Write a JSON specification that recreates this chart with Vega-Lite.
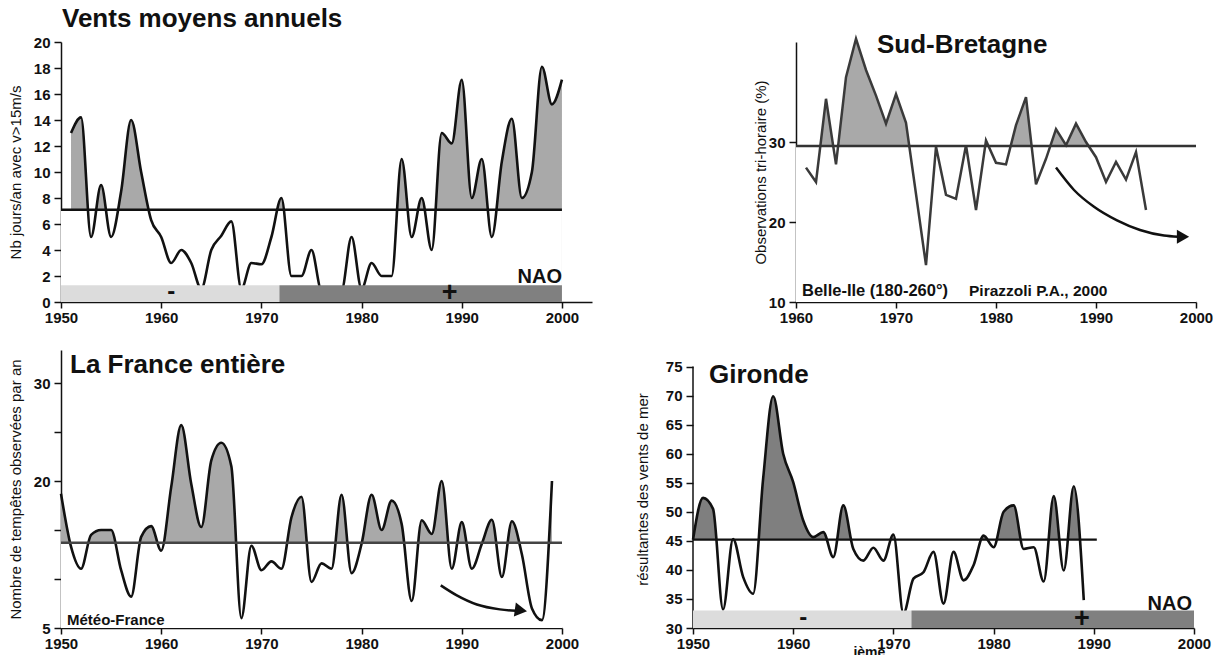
{
  "$schema": "https://vega.github.io/schema/vega-lite/v6.json",
  "autosize": {"type": "pad"},
  "padding": {"left": 8, "top": 6, "right": 0, "bottom": 0},
  "background": "white",
  "datasets": {
    "vents": [
      {"year":1951,"v":13.0},{"year":1952,"v":14.2},{"year":1953,"v":5.0},{"year":1954,"v":9.0},{"year":1955,"v":5.0},
      {"year":1956,"v":8.5},{"year":1957,"v":14.0},{"year":1958,"v":10.0},{"year":1959,"v":6.3},{"year":1960,"v":5.0},
      {"year":1961,"v":3.0},{"year":1962,"v":4.0},{"year":1963,"v":3.0},{"year":1964,"v":1.0},{"year":1965,"v":4.0},
      {"year":1966,"v":5.1},{"year":1967,"v":6.2},{"year":1968,"v":1.0},{"year":1969,"v":3.0},{"year":1970,"v":2.9},
      {"year":1971,"v":5.0},{"year":1972,"v":8.0},{"year":1973,"v":2.0},{"year":1974,"v":2.0},{"year":1975,"v":4.0},
      {"year":1976,"v":0.9},{"year":1977,"v":1.0},{"year":1978,"v":0.9},{"year":1979,"v":5.0},{"year":1980,"v":1.0},
      {"year":1981,"v":3.0},{"year":1982,"v":2.0},{"year":1983,"v":2.0},{"year":1984,"v":11.0},{"year":1985,"v":5.0},
      {"year":1986,"v":8.0},{"year":1987,"v":4.0},{"year":1988,"v":13.0},{"year":1989,"v":12.2},{"year":1990,"v":17.1},
      {"year":1991,"v":8.0},{"year":1992,"v":11.0},{"year":1993,"v":5.0},{"year":1994,"v":10.8},{"year":1995,"v":14.1},
      {"year":1996,"v":8.0},{"year":1997,"v":10.0},{"year":1998,"v":18.1},{"year":1999,"v":15.2},{"year":2000,"v":17.1}
    ],
    "bretagne": [
      {"year":1961,"v":26.8},{"year":1962,"v":25.0},{"year":1963,"v":35.4},{"year":1964,"v":27.2},{"year":1965,"v":38.1},
      {"year":1966,"v":42.9},{"year":1967,"v":39.0},{"year":1968,"v":35.8},{"year":1969,"v":32.3},{"year":1970,"v":36.0},
      {"year":1971,"v":32.4},{"year":1972,"v":23.5},{"year":1973,"v":14.6},{"year":1974,"v":29.4},{"year":1975,"v":23.4},
      {"year":1976,"v":22.9},{"year":1977,"v":29.6},{"year":1978,"v":21.5},{"year":1979,"v":30.2},{"year":1980,"v":27.4},
      {"year":1981,"v":27.2},{"year":1982,"v":32.1},{"year":1983,"v":35.6},{"year":1984,"v":24.7},{"year":1985,"v":27.9},
      {"year":1986,"v":31.6},{"year":1987,"v":29.6},{"year":1988,"v":32.3},{"year":1989,"v":30.0},{"year":1990,"v":28.1},
      {"year":1991,"v":25.0},{"year":1992,"v":27.5},{"year":1993,"v":25.3},{"year":1994,"v":28.75},{"year":1995,"v":21.5}
    ],
    "france": [
      {"year":1950,"v":18.7},{"year":1951,"v":13.3},{"year":1952,"v":11.05},{"year":1953,"v":14.5},{"year":1954,"v":15.0},
      {"year":1955,"v":15.0},{"year":1956,"v":10.9},{"year":1957,"v":8.2},{"year":1958,"v":14.3},{"year":1959,"v":15.4},
      {"year":1960,"v":12.9},{"year":1961,"v":19.4},{"year":1962,"v":25.7},{"year":1963,"v":19.7},{"year":1964,"v":15.3},
      {"year":1965,"v":22.1},{"year":1966,"v":23.9},{"year":1967,"v":21.5},{"year":1968,"v":6.0},{"year":1969,"v":13.4},
      {"year":1970,"v":10.9},{"year":1971,"v":11.8},{"year":1972,"v":11.05},{"year":1973,"v":16.3},{"year":1974,"v":18.4},
      {"year":1975,"v":9.7},{"year":1976,"v":11.6},{"year":1977,"v":11.05},{"year":1978,"v":18.6},{"year":1979,"v":10.6},
      {"year":1980,"v":13.6},{"year":1981,"v":18.6},{"year":1982,"v":15.0},{"year":1983,"v":18.0},{"year":1984,"v":15.6},
      {"year":1985,"v":7.75},{"year":1986,"v":16.0},{"year":1987,"v":14.6},{"year":1988,"v":20.0},{"year":1989,"v":11.05},
      {"year":1990,"v":15.8},{"year":1991,"v":11.05},{"year":1992,"v":13.6},{"year":1993,"v":16.05},{"year":1994,"v":10.2},
      {"year":1995,"v":15.9},{"year":1996,"v":12.5},{"year":1997,"v":7.0},{"year":1998,"v":5.8},{"year":1999,"v":20.0}
    ],
    "gironde": [
      {"year":1950,"v":45.2},{"year":1951,"v":52.4},{"year":1952,"v":50.5},{"year":1953,"v":33.2},{"year":1954,"v":45.3},
      {"year":1955,"v":38.8},{"year":1956,"v":35.9},{"year":1957,"v":55.7},{"year":1958,"v":69.9},{"year":1959,"v":60.0},
      {"year":1960,"v":55.1},{"year":1961,"v":48.5},{"year":1962,"v":45.65},{"year":1963,"v":46.5},{"year":1964,"v":42.2},
      {"year":1965,"v":51.1},{"year":1966,"v":43.6},{"year":1967,"v":41.6},{"year":1968,"v":43.8},{"year":1969,"v":41.6},
      {"year":1970,"v":46.1},{"year":1971,"v":32.5},{"year":1972,"v":38.5},{"year":1973,"v":39.6},{"year":1974,"v":43.1},
      {"year":1975,"v":34.2},{"year":1976,"v":43.1},{"year":1977,"v":38.2},{"year":1978,"v":40.8},{"year":1979,"v":45.9},
      {"year":1980,"v":43.9},{"year":1981,"v":50.0},{"year":1982,"v":51.1},{"year":1983,"v":43.6},{"year":1984,"v":43.9},
      {"year":1985,"v":38.0},{"year":1986,"v":52.7},{"year":1987,"v":39.9},{"year":1988,"v":54.4},{"year":1989,"v":34.8}
    ],
    "naoVents": [
      {"start":1950,"end":1971.8,"phase":"neg"},
      {"start":1971.8,"end":2000,"phase":"pos"}
    ],
    "naoGironde": [
      {"start":1950,"end":1971.8,"phase":"neg"},
      {"start":1971.8,"end":2000,"phase":"pos"}
    ],
    "arrowSB": [
      {"year":1986.0,"v":26.8},{"year":1987.8,"v":24.0},{"year":1989.8,"v":21.9},{"year":1992.1,"v":20.2},
      {"year":1994.4,"v":19.0},{"year":1996.8,"v":18.3},{"year":1998.2,"v":18.15}
    ],
    "arrowFR": [
      {"year":1987.9,"v":9.35},{"year":1989.5,"v":8.33},{"year":1991.5,"v":7.4},{"year":1993.8,"v":6.9},{"year":1995.4,"v":6.75}
    ]
  },
  "spacing": 25,
  "vconcat": [
    {
      "spacing": 204,
      "bounds": "flush",
      "hconcat": [
        {
          "width": 531,
          "height": 260,
          "layer": [
            {
              "data": {"name": "vents"},
              "mark": {"type": "area", "interpolate": "monotone", "color": "#a9a9a9"},
              "encoding": {
                "x": {"field": "year", "type": "quantitative", "scale": {"domain": [1950, 2003], "nice": false, "zero": false},
                      "axis": {"values": [1950,1960,1970,1980,1990,2000], "format": "d", "title": null}},
                "y": {"field": "v", "type": "quantitative", "scale": {"domain": [0, 20], "nice": false},
                      "axis": {"values": [0,2,4,6,8,10,12,14,16,18,20], "tickCount": 40, "format": "d", "title": "Nb jours/an avec v>15m/s", "titlePadding": 10}},
                "y2": {"datum": 0}
              }
            },
            {
              "data": {"values": [{}]},
              "mark": {"type": "rect", "color": "white"},
              "encoding": {"x": {"datum": 1950}, "x2": {"datum": 2000}, "y": {"datum": 0}, "y2": {"datum": 7.1}}
            },
            {
              "data": {"name": "vents"},
              "mark": {"type": "line", "interpolate": "monotone", "color": "#111", "strokeWidth": 2.6},
              "encoding": {"x": {"field": "year", "type": "quantitative"}, "y": {"field": "v", "type": "quantitative"}}
            },
            {
              "data": {"values": [{}]},
              "mark": {"type": "rule", "color": "#111", "strokeWidth": 2.5},
              "encoding": {"x": {"datum": 1950}, "x2": {"datum": 2000}, "y": {"datum": 7.1}}
            },
            {
              "data": {"name": "naoVents"},
              "mark": {"type": "rect"},
              "encoding": {
                "x": {"field": "start", "type": "quantitative"}, "x2": {"field": "end"},
                "y": {"datum": 0}, "y2": {"datum": 1.28},
                "color": {"field": "phase", "type": "nominal", "scale": {"domain": ["neg","pos"], "range": ["#dcdcdc","#808080"]}, "legend": null}
              }
            },
            {
              "data": {"values": [{}]},
              "mark": {"type": "text", "text": "-", "font": "Liberation Sans", "fontWeight": "bold", "fontSize": 24, "align": "center", "baseline": "middle", "color": "#111"},
              "encoding": {"x": {"datum": 1961}, "y": {"datum": 0.75}}
            },
            {
              "data": {"values": [{}]},
              "mark": {"type": "text", "text": "+", "font": "Liberation Sans", "fontWeight": "bold", "fontSize": 27, "align": "center", "baseline": "middle", "color": "#111"},
              "encoding": {"x": {"datum": 1988.8}, "y": {"datum": 0.7}}
            },
            {
              "data": {"values": [{}]},
              "mark": {"type": "text", "text": "NAO", "font": "Liberation Sans", "fontWeight": "bold", "fontSize": 20, "align": "right", "baseline": "alphabetic", "color": "#111"},
              "encoding": {"x": {"datum": 2000}, "y": {"datum": 1.44}}
            },
            {
              "data": {"values": [{}]},
              "mark": {"type": "text", "text": "Vents moyens annuels", "font": "Liberation Sans", "fontWeight": "bold", "fontSize": 26, "align": "left", "baseline": "alphabetic", "color": "#111"},
              "encoding": {"x": {"datum": 1950.1}, "y": {"datum": 21.15}}
            }
          ]
        },
        {
          "width": 400,
          "height": 260,
          "layer": [
            {
              "data": {"name": "bretagne"},
              "mark": {"type": "area", "color": "#a9a9a9"},
              "encoding": {
                "x": {"field": "year", "type": "quantitative", "scale": {"domain": [1960, 2000], "nice": false, "zero": false},
                      "axis": {"values": [1960,1970,1980,1990,2000], "format": "d", "title": null}},
                "y": {"field": "v", "type": "quantitative", "scale": {"domain": [10, 42.5], "nice": false, "zero": false},
                      "axis": {"values": [10,20,30], "tickCount": 40, "format": "d", "title": "Observations tri-horaire (%)", "titlePadding": 0}},
                "y2": {"datum": 10}
              }
            },
            {
              "data": {"values": [{}]},
              "mark": {"type": "rect", "color": "white"},
              "encoding": {"x": {"datum": 1960}, "x2": {"datum": 2000}, "y": {"datum": 10}, "y2": {"datum": 29.5}}
            },
            {
              "data": {"name": "bretagne"},
              "mark": {"type": "line", "color": "#3a3a3a", "strokeWidth": 2.5},
              "encoding": {"x": {"field": "year", "type": "quantitative"}, "y": {"field": "v", "type": "quantitative"}}
            },
            {
              "data": {"values": [{}]},
              "mark": {"type": "rule", "color": "#333", "strokeWidth": 2.5},
              "encoding": {"x": {"datum": 1960}, "x2": {"datum": 2000}, "y": {"datum": 29.5}}
            },
            {
              "data": {"name": "arrowSB"},
              "mark": {"type": "line", "interpolate": "monotone", "color": "#111", "strokeWidth": 2.5},
              "encoding": {"x": {"field": "year", "type": "quantitative"}, "y": {"field": "v", "type": "quantitative"}}
            },
            {
              "data": {"values": [{}]},
              "mark": {"type": "point", "shape": "triangle-right", "filled": true, "size": 200, "color": "#111", "opacity": 1},
              "encoding": {"x": {"datum": 1998.7}, "y": {"datum": 18.15}}
            },
            {
              "data": {"values": [{}]},
              "mark": {"type": "text", "text": "Sud-Bretagne", "font": "Liberation Sans", "fontWeight": "bold", "fontSize": 26, "align": "left", "baseline": "alphabetic", "color": "#111"},
              "encoding": {"x": {"datum": 1968.1}, "y": {"datum": 41.1}}
            },
            {
              "data": {"values": [{}]},
              "mark": {"type": "text", "text": "Belle-Ile (180-260°)", "font": "Liberation Sans", "fontWeight": "bold", "fontSize": 16.5, "align": "left", "baseline": "alphabetic", "color": "#111"},
              "encoding": {"x": {"datum": 1960.6}, "y": {"datum": 10.7}}
            },
            {
              "data": {"values": [{}]},
              "mark": {"type": "text", "text": "Pirazzoli P.A., 2000", "font": "Liberation Sans", "fontWeight": "bold", "fontSize": 15.5, "align": "left", "baseline": "alphabetic", "color": "#111"},
              "encoding": {"x": {"datum": 1977.3}, "y": {"datum": 10.7}}
            }
          ]
        }
      ]
    },
    {
      "spacing": 131,
      "bounds": "flush",
      "hconcat": [
        {
          "width": 501,
          "height": 278,
          "layer": [
            {
              "data": {"name": "france"},
              "mark": {"type": "area", "interpolate": "monotone", "color": "#a9a9a9"},
              "encoding": {
                "x": {"field": "year", "type": "quantitative", "scale": {"domain": [1950, 2000], "nice": false, "zero": false},
                      "axis": {"values": [1950,1960,1970,1980,1990,2000], "format": "d", "title": null}},
                "y": {"field": "v", "type": "quantitative", "scale": {"domain": [5, 33.37], "nice": false, "zero": false},
                      "axis": {"values": [5,10,15,20,25,30], "tickCount": 40, "format": "d", "labelExpr": "datum.value == 5 || datum.value == 20 || datum.value == 30 ? datum.label : ''", "title": "Nombre de tempêtes observées par an", "titlePadding": 10}},
                "y2": {"datum": 5}
              }
            },
            {
              "data": {"values": [{}]},
              "mark": {"type": "rect", "color": "white"},
              "encoding": {"x": {"datum": 1950}, "x2": {"datum": 2000}, "y": {"datum": 5}, "y2": {"datum": 13.7}}
            },
            {
              "data": {"name": "france"},
              "mark": {"type": "line", "interpolate": "monotone", "color": "#111", "strokeWidth": 2.6},
              "encoding": {"x": {"field": "year", "type": "quantitative"}, "y": {"field": "v", "type": "quantitative"}}
            },
            {
              "data": {"values": [{}]},
              "mark": {"type": "rule", "color": "#444", "strokeWidth": 2.5},
              "encoding": {"x": {"datum": 1950}, "x2": {"datum": 2000}, "y": {"datum": 13.7}}
            },
            {
              "data": {"name": "arrowFR"},
              "mark": {"type": "line", "interpolate": "monotone", "color": "#111", "strokeWidth": 2.5},
              "encoding": {"x": {"field": "year", "type": "quantitative"}, "y": {"field": "v", "type": "quantitative"}}
            },
            {
              "data": {"values": [{}]},
              "mark": {"type": "point", "shape": "triangle-right", "filled": true, "size": 200, "color": "#111", "opacity": 1, "angle": 8},
              "encoding": {"x": {"datum": 1995.9}, "y": {"datum": 6.8}}
            },
            {
              "data": {"values": [{}]},
              "mark": {"type": "text", "text": "La France entière", "font": "Liberation Sans", "fontWeight": "bold", "fontSize": 26, "align": "left", "baseline": "alphabetic", "color": "#111"},
              "encoding": {"x": {"datum": 1950.9}, "y": {"datum": 31.0}}
            },
            {
              "data": {"values": [{}]},
              "mark": {"type": "text", "text": "Météo-France", "font": "Liberation Sans", "fontWeight": "bold", "fontSize": 15, "align": "left", "baseline": "alphabetic", "color": "#111"},
              "encoding": {"x": {"datum": 1950.6}, "y": {"datum": 5.3}}
            }
          ]
        },
        {
          "width": 501,
          "height": 278,
          "layer": [
            {
              "data": {"name": "gironde"},
              "mark": {"type": "area", "interpolate": "monotone", "color": "#7f7f7f"},
              "encoding": {
                "x": {"field": "year", "type": "quantitative", "scale": {"domain": [1950, 2000], "nice": false, "zero": false},
                      "axis": {"values": [1950,1960,1970,1980,1990,2000], "format": "d", "title": null}},
                "y": {"field": "v", "type": "quantitative", "scale": {"domain": [30, 77.85], "nice": false, "zero": false},
                      "axis": {"values": [30,35,40,45,50,55,60,65,70,75], "tickCount": 40, "format": "d", "domain": false, "title": "résultantes des vents de mer", "titlePadding": 15}},
                "y2": {"datum": 30}
              }
            },
            {
              "data": {"values": [{}]},
              "mark": {"type": "rect", "color": "white"},
              "encoding": {"x": {"datum": 1950}, "x2": {"datum": 2000}, "y": {"datum": 30}, "y2": {"datum": 45.2}}
            },
            {
              "data": {"name": "gironde"},
              "mark": {"type": "line", "interpolate": "monotone", "color": "#111", "strokeWidth": 2.6},
              "encoding": {"x": {"field": "year", "type": "quantitative"}, "y": {"field": "v", "type": "quantitative"}}
            },
            {
              "data": {"values": [{}]},
              "mark": {"type": "rule", "color": "#111", "strokeWidth": 2.2},
              "encoding": {"x": {"datum": 1950}, "x2": {"datum": 1990.3}, "y": {"datum": 45.2}}
            },
            {
              "data": {"values": [{}]},
              "mark": {"type": "rule", "color": "#111", "strokeWidth": 1.5},
              "encoding": {"x": {"datum": 1950}, "y": {"datum": 30}, "y2": {"datum": 75}}
            },
            {
              "data": {"name": "naoGironde"},
              "mark": {"type": "rect"},
              "encoding": {
                "x": {"field": "start", "type": "quantitative"}, "x2": {"field": "end"},
                "y": {"datum": 30}, "y2": {"datum": 33.0},
                "color": {"field": "phase", "type": "nominal", "scale": {"domain": ["neg","pos"], "range": ["#dcdcdc","#808080"]}, "legend": null}
              }
            },
            {
              "data": {"values": [{}]},
              "mark": {"type": "text", "text": "-", "font": "Liberation Sans", "fontWeight": "bold", "fontSize": 24, "align": "center", "baseline": "middle", "color": "#111"},
              "encoding": {"x": {"datum": 1961}, "y": {"datum": 31.8}}
            },
            {
              "data": {"values": [{}]},
              "mark": {"type": "text", "text": "+", "font": "Liberation Sans", "fontWeight": "bold", "fontSize": 27, "align": "center", "baseline": "middle", "color": "#111"},
              "encoding": {"x": {"datum": 1988.8}, "y": {"datum": 31.6}}
            },
            {
              "data": {"values": [{}]},
              "mark": {"type": "text", "text": "NAO", "font": "Liberation Sans", "fontWeight": "bold", "fontSize": 20, "align": "right", "baseline": "alphabetic", "color": "#111"},
              "encoding": {"x": {"datum": 1999.8}, "y": {"datum": 33.1}}
            },
            {
              "data": {"values": [{}]},
              "mark": {"type": "text", "text": "Gironde", "font": "Liberation Sans", "fontWeight": "bold", "fontSize": 26, "align": "left", "baseline": "alphabetic", "color": "#111"},
              "encoding": {"x": {"datum": 1951.6}, "y": {"datum": 72.2}}
            },
            {
              "data": {"values": [{}]},
              "mark": {"type": "text", "text": "ième", "font": "Liberation Sans", "fontWeight": "bold", "fontSize": 14, "align": "center", "baseline": "top", "color": "#111"},
              "encoding": {"x": {"datum": 1967.6}, "y": {"datum": 26.9}}
            }
          ]
        }
      ]
    }
  ],
  "config": {
    "view": {"stroke": null},
    "axis": {
      "grid": false,
      "labelFont": "Liberation Sans",
      "labelFontWeight": "bold",
      "labelFontSize": 15,
      "labelColor": "#111",
      "labelOverlap": false,
      "labelFlush": false,
      "domainColor": "#111",
      "tickColor": "#111",
      "domainWidth": 1.5,
      "tickWidth": 1.5,
      "titleFont": "Liberation Sans",
      "titleFontWeight": "normal",
      "titleFontSize": 15,
      "titleColor": "#111",
      "zindex": 1
    },
    "axisX": {"tickSize": 6, "labelPadding": 2},
    "axisY": {"tickSize": 7, "labelPadding": 4}
  }
}
